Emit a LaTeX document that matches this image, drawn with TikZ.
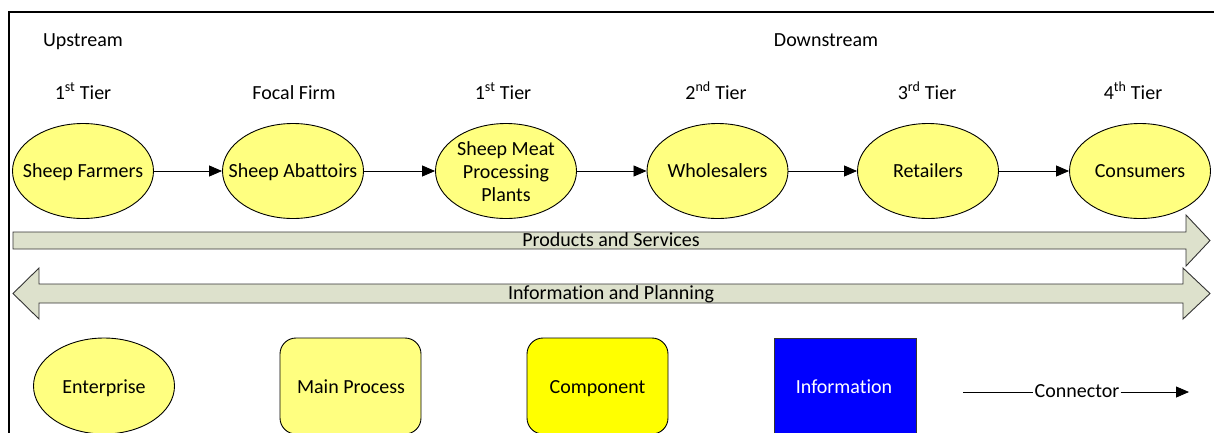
\documentclass[tikz,border=0pt]{standalone}
\usepackage{fontspec}
\setmainfont{Carlito}[Ligatures=NoCommon]
\usetikzlibrary{shapes.geometric,arrows.meta}
\definecolor{firmfill}{RGB}{255,255,128}
\definecolor{compfill}{RGB}{255,255,0}
\definecolor{flowfill}{RGB}{221,225,204}
\definecolor{infofill}{RGB}{0,0,255}
\tikzset{
  lbl/.style={font=\fontsize{20}{23}\selectfont, inner sep=0pt, anchor=base},
  firm/.style={ellipse, draw=black, line width=0.9pt, fill=firmfill,
    minimum width=141pt, minimum height=95pt, inner sep=0pt},
  rbox/.style={rectangle, rounded corners=16pt, draw=black, line width=0.9pt,
    minimum width=141pt, minimum height=96pt, inner sep=0pt},
  flow/.style={-{Triangle[length=13pt,width=11pt]}, line width=0.8pt},
  bigarrow/.style={draw=black!80, line width=0.9pt, fill=flowfill},
}
\begin{document}
\begin{tikzpicture}[x=1pt,y=-1pt]
\useasboundingbox (0,0) rectangle (1214,432);
% frame
\draw[line width=2pt] (9,433) -- (9,12) -- (1215,12);

% headings
\node[lbl] (up) at (83,46) {Upstream};
\node[lbl] (down) at (826,46) {Downstream};
\node[lbl] (t1) at (83,99) {1\textsuperscript{st} Tier};
\node[lbl] (tf) at (294,99) {Focal Firm};
\node[lbl] (t2) at (503,99) {1\textsuperscript{st} Tier};
\node[lbl] (t3) at (716,99) {2\textsuperscript{nd} Tier};
\node[lbl] (t4) at (927,99) {3\textsuperscript{rd} Tier};
\node[lbl] (t5) at (1133,99) {4\textsuperscript{th} Tier};

% supply chain members
\node[firm] (farm) at (83,171) {};
\node[firm] (abat) at (293,171) {};
\node[firm] (proc) at (506,171) {};
\node[firm] (whol) at (717.5,171) {};
\node[firm] (reta) at (928,171) {};
\node[firm] (cons) at (1140,171) {};
\node[lbl] (farmtxt) at (83,177) {Sheep Farmers};
\node[lbl] (abattxt) at (293,177) {Sheep Abattoirs};
\node[lbl, anchor=center, align=center] (proctxt) at (506,172) {Sheep Meat\\Processing\\Plants};
\node[lbl] (wholtxt) at (717.5,177) {Wholesalers};
\node[lbl] (retatxt) at (928,177) {Retailers};
\node[lbl] (constxt) at (1140,177) {Consumers};

\draw[flow] (farm) -- (abat);
\draw[flow] (abat) -- (proc);
\draw[flow] (proc) -- (whol);
\draw[flow] (whol) -- (reta);
\draw[flow] (reta) -- (cons);

% products and services (one-way block arrow)
\draw[bigarrow] (13,232) -- (1186,232) -- (1186,215) -- (1210,240.5)
  -- (1186,266) -- (1186,249) -- (13,249) -- cycle;
\node[lbl] (prod) at (611,246) {Products and Services};

% information and planning (two-way block arrow)
\draw[bigarrow] (13,293.5) -- (39,268) -- (39,284) -- (1183,284) -- (1183,268)
  -- (1210,293.5) -- (1183,319) -- (1183,303) -- (39,303) -- (39,319) -- cycle;
\node[lbl] (info) at (611,299) {Information and Planning};

% legend
\node[firm, minimum height=96pt] (lgent) at (104,386) {};
\node[lbl] (lgenttxt) at (104,393) {Enterprise};
\node[rbox, fill=firmfill] (lgproc) at (350.5,386) {};
\node[lbl] (lgproctxt) at (351,393) {Main Process};
\node[rbox, fill=compfill] (lgcomp) at (597.5,386) {};
\node[lbl] (lgcomptxt) at (597.5,393) {Component};
\node[rectangle, draw=black!80, line width=0.9pt, fill=infofill,
  minimum width=142pt, minimum height=96pt, inner sep=0pt] (lginfo) at (845,386) {};
\node[lbl, text=white] (lginfotxt) at (844,393) {Information};
\node[lbl, inner xsep=1pt] (lgconn) at (1077,397) {Connector};
\coordinate (cstart) at (963,392);
\coordinate (cend) at (1189,392);
\draw[line width=0.8pt] (cstart) -- (cstart -| lgconn.west);
\draw[flow] (cend -| lgconn.east) -- (cend);
\end{tikzpicture}
\end{document}
